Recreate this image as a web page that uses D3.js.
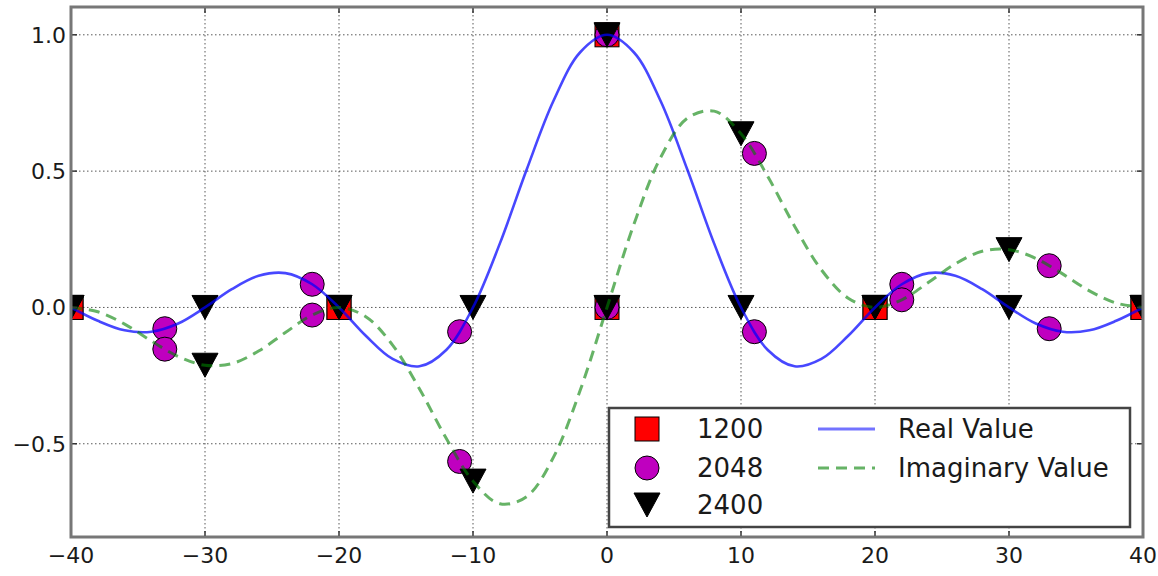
<!DOCTYPE html>
<html>
<head>
<meta charset="utf-8">
<script src="https://cdn.jsdelivr.net/npm/d3@7"></script>
<style>
  body { margin: 0; background: #fff; }
  svg { display: block; font-family: "DejaVu Sans", sans-serif; }
  .grid line { stroke: #000; stroke-width: 1; stroke-dasharray: 1.5,2.5; opacity: 0.65; }
  .tickLabel { fill: #1a1a1a; font-size: 22px; }
  .legendText { fill: #1a1a1a; font-size: 26px; }
</style>
</head>
<body>
<svg id="chart"></svg>
<script>
const curveX = [-40, -38, -36, -34, -32, -30, -28, -26, -24, -22, -20, -18, -16, -14, -12, -10, -8, -6, -4, -2,
  0, 2, 4, 6, 8, 10, 12, 14, 16, 18, 20, 22, 24, 26, 28, 30, 32, 34, 36, 38, 40];
const realValue = [0, -0.049, -0.084, -0.089, -0.059, 0, 0.067, 0.116, 0.126, 0.085, 0, -0.104, -0.189, -0.216, -0.156, 0, 0.234, 0.505, 0.757, 0.936,
  1, 0.936, 0.757, 0.505, 0.234, 0, -0.156, -0.216, -0.189, -0.104, 0, 0.085, 0.126, 0.116, 0.067, 0, -0.059, -0.089, -0.084, -0.049, 0];
const imagValue = [0, -0.016, -0.061, -0.123, -0.180, -0.212, -0.206, -0.160, -0.092, -0.028, 0, -0.034, -0.138, -0.298, -0.480, -0.637, -0.720, -0.694, -0.550, -0.304,
  0, 0.304, 0.550, 0.694, 0.720, 0.637, 0.480, 0.298, 0.138, 0.034, 0, 0.028, 0.092, 0.160, 0.206, 0.212, 0.180, 0.123, 0.061, 0.016, 0];

// sample points for each N
const x1200 = [-40, -20, 0, 20, 40];
const real1200 = [0, 0, 1, 0, 0];
const imag1200 = [0, 0, 0, 0, 0];

const x2048 = [-33, -22, -11, 0, 11, 22, 33];
const real2048 = [-0.078, 0.085, -0.089, 1, -0.089, 0.085, -0.078];
const imag2048 = [-0.153, -0.028, -0.565, 0, 0.565, 0.028, 0.153];

const x2400 = [-40, -30, -20, -10, 0, 10, 20, 30, 40];
const real2400 = [0, 0, 0, 0, 1, 0, 0, 0, 0];
const imag2400 = [0, -0.212, 0, -0.637, 0, 0.637, 0, 0.212, 0];

const xTicks = [-40, -30, -20, -10, 0, 10, 20, 30, 40];
const yTicks = [-0.5, 0, 0.5, 1.0];
const seriesNames = ['1200', '2048', '2400'];
const lineNames = ['Real Value', 'Imaginary Value'];

const width = 1158, height = 576;
const plot = { left: 71, right: 1143, top: 7, bottom: 537 };

const svg = d3.select('#chart')
  .attr('width', width)
  .attr('height', height);

svg.append('rect')
  .attr('width', width)
  .attr('height', height)
  .attr('fill', '#fff');

const xScale = d3.scaleLinear()
  .domain([-40, 40])
  .range([plot.left, plot.right]);

const yScale = d3.scaleLinear()
  .domain([-0.842, 1.102])
  .range([plot.bottom, plot.top]);

const fmt = d => d3.format('.1f')(d).replace('-', '\u2212');
const fmtX = d => String(d).replace('-', '\u2212');

svg.append('clipPath')
  .attr('id', 'plotClip')
  .append('rect')
  .attr('x', plot.left)
  .attr('y', plot.top)
  .attr('width', plot.right - plot.left)
  .attr('height', plot.bottom - plot.top);

// grid
const grid = svg.append('g').attr('class', 'grid');
grid.selectAll('.vg')
  .data(xTicks)
  .join('line')
  .attr('x1', d => xScale(d)).attr('x2', d => xScale(d))
  .attr('y1', plot.top).attr('y2', plot.bottom);
grid.selectAll('.hg')
  .data(yTicks)
  .join('line')
  .attr('class', 'hg')
  .attr('x1', plot.left).attr('x2', plot.right)
  .attr('y1', d => yScale(d)).attr('y2', d => yScale(d));

const marks = svg.append('g').attr('clip-path', 'url(#plotClip)');

const toPoints = (xs, ys) => xs.map((x, i) => ({ x: x, y: ys[i] }));

const drawSquares = (pts) => {
  marks.append('g').selectAll('rect')
    .data(pts)
    .join('rect')
    .attr('x', d => xScale(d.x) - 12)
    .attr('y', d => yScale(d.y) - 12)
    .attr('width', 24)
    .attr('height', 24)
    .attr('fill', '#ff0000')
    .attr('stroke', '#000')
    .attr('stroke-width', 1);
};

const drawCircles = (pts) => {
  marks.append('g').selectAll('circle')
    .data(pts)
    .join('circle')
    .attr('cx', d => xScale(d.x))
    .attr('cy', d => yScale(d.y))
    .attr('r', 12)
    .attr('fill', '#bf00bf')
    .attr('stroke', '#000')
    .attr('stroke-width', 1);
};

const triPath = (cx, cy) => `M${cx - 13},${cy - 12}L${cx + 13},${cy - 12}L${cx},${cy + 12}Z`;

const drawTriangles = (pts) => {
  marks.append('g').selectAll('path')
    .data(pts)
    .join('path')
    .attr('d', d => triPath(xScale(d.x), yScale(d.y)))
    .attr('fill', '#000')
    .attr('stroke', '#000')
    .attr('stroke-width', 1);
};

drawSquares(toPoints(x1200, real1200));
drawSquares(toPoints(x1200, imag1200));
drawCircles(toPoints(x2048, real2048));
drawCircles(toPoints(x2048, imag2048));
drawTriangles(toPoints(x2400, real2400));
drawTriangles(toPoints(x2400, imag2400));

const line = d3.line()
  .x(d => xScale(d.x))
  .y(d => yScale(d.y))
  .curve(d3.curveCatmullRom.alpha(0.5));

marks.append('path')
  .datum(toPoints(curveX, realValue))
  .attr('d', line)
  .attr('fill', 'none')
  .attr('stroke', '#0000ff')
  .attr('stroke-opacity', 0.72)
  .attr('stroke-width', 2.6);

marks.append('path')
  .datum(toPoints(curveX, imagValue))
  .attr('d', line)
  .attr('fill', 'none')
  .attr('stroke', '#008000')
  .attr('stroke-opacity', 0.6)
  .attr('stroke-width', 3)
  .attr('stroke-dasharray', '11,7');

// ticks (inward, all four sides)
const ticks = svg.append('g')
  .attr('stroke', '#333')
  .attr('stroke-width', 1.5);
xTicks.forEach(t => {
  ticks.append('line').attr('x1', xScale(t)).attr('x2', xScale(t)).attr('y1', plot.bottom).attr('y2', plot.bottom - 6);
  ticks.append('line').attr('x1', xScale(t)).attr('x2', xScale(t)).attr('y1', plot.top).attr('y2', plot.top + 6);
});
yTicks.forEach(t => {
  ticks.append('line').attr('x1', plot.left).attr('x2', plot.left + 6).attr('y1', yScale(t)).attr('y2', yScale(t));
  ticks.append('line').attr('x1', plot.right).attr('x2', plot.right - 6).attr('y1', yScale(t)).attr('y2', yScale(t));
});

// frame
svg.append('rect')
  .attr('x', plot.left)
  .attr('y', plot.top)
  .attr('width', plot.right - plot.left)
  .attr('height', plot.bottom - plot.top)
  .attr('fill', 'none')
  .attr('stroke', '#777')
  .attr('stroke-width', 3);

// tick labels
svg.append('g').selectAll('text')
  .data(xTicks)
  .join('text')
  .attr('class', 'tickLabel')
  .attr('x', d => xScale(d))
  .attr('y', 563)
  .attr('text-anchor', 'middle')
  .text(fmtX);

svg.append('g').selectAll('text')
  .data(yTicks)
  .join('text')
  .attr('class', 'tickLabel')
  .attr('x', 66)
  .attr('y', d => yScale(d) + 8)
  .attr('text-anchor', 'end')
  .text(fmt);

// legend
const legend = svg.append('g');
legend.append('rect')
  .attr('x', 609)
  .attr('y', 408)
  .attr('width', 521)
  .attr('height', 119)
  .attr('fill', '#fff')
  .attr('stroke', '#444')
  .attr('stroke-width', 2.5);

const rowY = [429, 468, 505];
const mx = 647;
legend.append('rect')
  .attr('x', mx - 12).attr('y', rowY[0] - 12)
  .attr('width', 24).attr('height', 24)
  .attr('fill', '#ff0000').attr('stroke', '#000').attr('stroke-width', 1);
legend.append('circle')
  .attr('cx', mx).attr('cy', rowY[1]).attr('r', 12)
  .attr('fill', '#bf00bf').attr('stroke', '#000').attr('stroke-width', 1);
legend.append('path')
  .attr('d', triPath(mx, rowY[2]))
  .attr('fill', '#000').attr('stroke', '#000').attr('stroke-width', 1);

legend.selectAll('.sn')
  .data(seriesNames)
  .join('text')
  .attr('class', 'legendText')
  .attr('x', 697)
  .attr('y', (d, i) => rowY[i] + 9)
  .text(d => d);

legend.append('line')
  .attr('x1', 818).attr('x2', 875)
  .attr('y1', rowY[0]).attr('y2', rowY[0])
  .attr('stroke', '#0000ff').attr('stroke-opacity', 0.55).attr('stroke-width', 3);
legend.append('line')
  .attr('x1', 818).attr('x2', 875)
  .attr('y1', rowY[1]).attr('y2', rowY[1])
  .attr('stroke', '#008000').attr('stroke-opacity', 0.6).attr('stroke-width', 3)
  .attr('stroke-dasharray', '11,7');

legend.selectAll('.ln')
  .data(lineNames)
  .join('text')
  .attr('class', 'legendText')
  .attr('x', 898)
  .attr('y', (d, i) => rowY[i] + 9)
  .text(d => d);
</script>
</body>
</html>
